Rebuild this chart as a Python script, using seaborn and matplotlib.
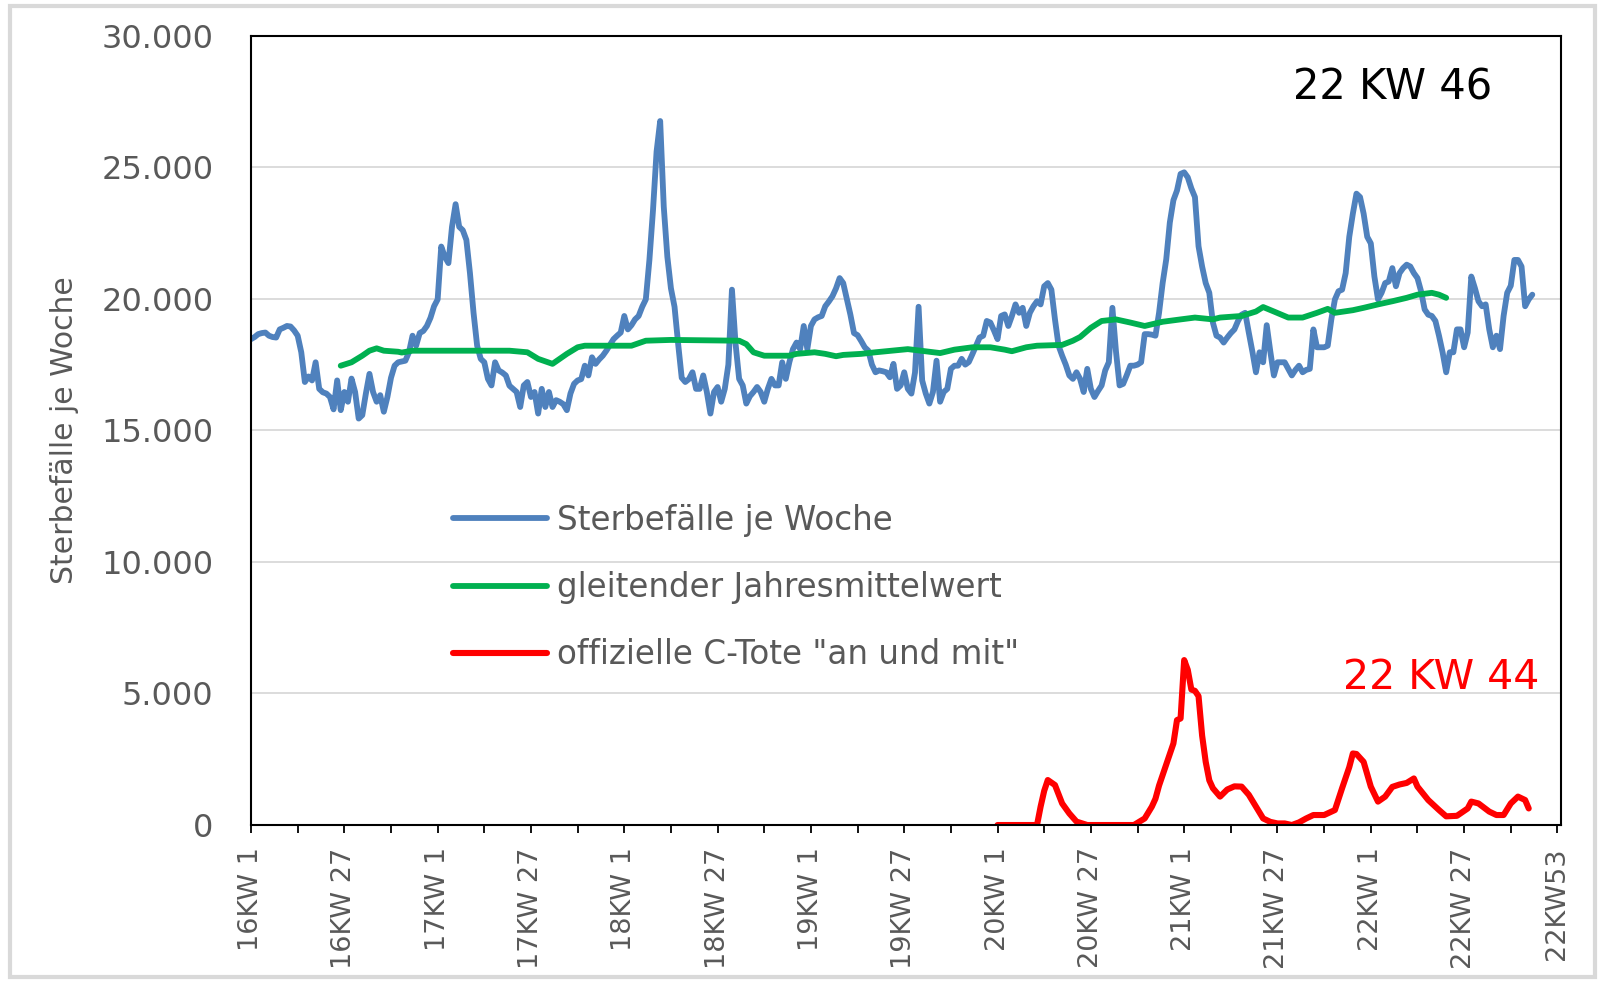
import numpy as np
import pandas as pd
import matplotlib
matplotlib.use("Agg")
import matplotlib.pyplot as plt
from matplotlib.ticker import FuncFormatter, MultipleLocator
from matplotlib.patches import Rectangle
import seaborn as sns

# Sterbefälle je Woche, ab 16KW1 (Index 0 = 16KW1)
sterbefaelle = [
    18470, 18550, 18660, 18700, 18720, 18600, 18550, 18530, 18840, 18900,
    18970, 18950, 18800, 18600, 17970, 16840, 17050, 16900, 17590, 16580,
    16450, 16400, 16270, 15800, 16900, 15770, 16460, 16090, 16970, 16460,
    15450, 15580, 16400, 17150, 16460, 16090, 16340, 15710, 16270, 17000,
    17460, 17590, 17620, 17650, 17970, 18600, 18220, 18700, 18780, 18970,
    19280, 19720, 19980, 21990, 21600, 21360, 22740, 23600, 22740, 22610,
    22240, 20980, 19470, 18220, 17720, 17590, 16960, 16710, 17590, 17280,
    17200, 17090, 16700, 16580, 16460, 15890, 16710, 16840, 16270, 16460,
    15640, 16580, 15890, 16460, 15890, 16150, 16090, 16000, 15770, 16400,
    16770, 16900, 16950, 17460, 17090, 17780, 17530, 17700, 17840, 18030,
    18250, 18470, 18600, 18720, 19350, 18840, 19000, 19220, 19350, 19700,
    19980, 21480, 23370, 25600, 26760, 23500, 21600, 20400, 19700, 18300,
    17000, 16840, 16950, 17210, 16580, 16580, 17090, 16460, 15640, 16460,
    16650, 16090, 16580, 17500, 20350, 18300, 16960, 16710, 16020, 16300,
    16460, 16650, 16460, 16090, 16580, 16960, 16710, 16710, 17590, 16960,
    17600, 18090, 18340, 18090, 18970, 18090, 18970, 19220, 19300, 19350,
    19720, 19900, 20100, 20400, 20790, 20600, 20000, 19400, 18700, 18620,
    18400, 18160, 18030, 17500, 17210, 17280, 17250, 17210, 17020, 17530,
    16580, 16710, 17210, 16580, 16400, 17200, 19700, 16900, 16400, 16020,
    16460, 17650, 16090, 16460, 16580, 17340, 17460, 17460, 17720, 17500,
    17600, 17900, 18220, 18530, 18600, 19160, 19100, 18800, 18470, 19350,
    19410, 18970, 19350, 19790, 19470, 19660, 18970, 19470, 19720, 19910,
    19790, 20480, 20600, 20350, 19220, 18220, 17840, 17500, 17090, 16960,
    17210, 16960, 16460, 17340, 16580, 16270, 16500, 16710, 17280, 17590,
    19660, 18000, 16710, 16770, 17100, 17460, 17460, 17500, 17590, 18660,
    18660, 18640, 18600, 19470, 20600, 21500, 22900, 23750, 24120, 24750,
    24810, 24620, 24200, 23870, 22000, 21230, 20600, 20230, 19100, 18600,
    18530, 18340, 18530, 18700, 18840, 19160, 19400, 19470, 18720, 18000,
    17210, 17970, 17590, 19000, 18000, 17090, 17590, 17590, 17590, 17340,
    17090, 17300, 17460, 17210, 17300, 17340, 18840, 18160, 18160, 18160,
    18220, 19220, 19980, 20290, 20350, 20980, 22360, 23240, 24000, 23870,
    23240, 22360, 22110, 20850, 19980, 20230, 20600, 20660, 21170, 20480,
    20980, 21170, 21300, 21230, 20980, 20790, 20290, 19600, 19400, 19350,
    19160, 18600, 17970, 17210, 17970, 17970, 18840, 18840, 18160, 18720,
    20850, 20410, 19910, 19720, 19790, 18840, 18160, 18600, 18090, 19350,
    20230, 20500, 21480, 21480, 21230, 19720, 19980, 20160,
]

# gleitender Jahresmittelwert (Woche, Wert)
mittel_kw = [25, 28, 31, 33, 35, 37, 41, 42, 45, 56, 72, 77, 80, 84, 88, 91, 93,
             106, 110, 117, 136, 138, 140, 143, 150, 152, 157, 160, 163, 165, 170,
             174, 183, 192, 196, 201, 206, 210, 212, 216, 219, 226, 229, 231, 234,
             237, 241, 245, 249, 254, 259, 263, 268, 270, 276, 280, 282, 285, 289,
             293, 297, 300, 302, 307, 310, 314, 318, 322, 325, 329, 331, 333]
mittel = [17460, 17590, 17840, 18030, 18120, 18030, 17990, 17960, 18030, 18030,
          18030, 17970, 17720, 17530, 17910, 18160, 18220, 18220, 18410, 18440,
          18410, 18280, 17970, 17840, 17840, 17910, 17970, 17910, 17820, 17870,
          17910, 17970, 18090, 17940, 18070, 18160, 18160, 18070, 18010, 18160,
          18220, 18250, 18410, 18550, 18900, 19160, 19220, 19100, 18970, 19130,
          19220, 19290, 19220, 19290, 19350, 19520, 19690, 19520, 19290, 19290,
          19470, 19620, 19470, 19570, 19660, 19790, 19910, 20040, 20160, 20230,
          20160, 20040]

# offizielle C-Tote "an und mit" (Woche, Wert)
ctote_kw = [208, 219, 220, 221, 222, 224, 226, 228, 230, 233, 246, 249, 251, 252,
            253, 254, 255, 256, 257, 258, 259, 260, 261, 262, 263, 264, 265, 266,
            267, 268, 270, 272, 274, 276, 278, 280, 282, 284, 286, 288, 290, 292,
            294, 296, 299, 302, 304, 306, 307, 308, 310, 312, 314, 316, 318, 320,
            322, 324, 325, 328, 331, 333, 336, 339, 340, 342, 345, 347, 349, 351,
            353, 355, 356]
ctote = [0, 0, 700, 1300, 1710, 1520, 820, 440, 130, 0, 0, 250, 700, 1000,
         1500, 1900, 2300, 2700, 3100, 3990, 4050, 6270, 5900, 5150, 5100, 4900, 3400, 2400,
         1700, 1400, 1080, 1350, 1470, 1460, 1150, 700, 250, 120, 60, 60, 0, 100,
         250, 380, 380, 570, 1400, 2200, 2720, 2700, 2400, 1460, 890, 1080, 1450, 1540,
         1600, 1770, 1460, 950, 570, 330, 350, 630, 890, 820, 510, 380, 380, 820,
         1080, 950, 630]

kw_labels = ["16KW 1", "16KW 27", "17KW 1", "17KW 27", "18KW 1", "18KW 27",
             "19KW 1", "19KW 27", "20KW 1", "20KW 27", "21KW 1", "21KW 27",
             "22KW 1", "22KW 27", "22KW53"]

df_tote = pd.DataFrame({"kw": np.arange(len(sterbefaelle)), "wert": sterbefaelle})
df_mittel = pd.DataFrame({"kw": mittel_kw, "wert": mittel})
df_ctote = pd.DataFrame({"kw": ctote_kw, "wert": ctote})

sns.set_theme(style="white")
plt.rcParams["font.family"] = ["DejaVu Sans"]

fig = plt.figure(figsize=(16.05, 9.81), dpi=100)
ax = fig.add_axes([0.1564, 0.159, 0.8162, 0.8045])

grau = "#595959"
sns.lineplot(data=df_tote, x="kw", y="wert", ax=ax, color="#4F81BD", lw=4.2,
             label="Sterbefälle je Woche")
sns.lineplot(data=df_mittel, x="kw", y="wert", ax=ax, color="#00B050", lw=4.2,
             label="gleitender Jahresmittelwert")
sns.lineplot(data=df_ctote, x="kw", y="wert", ax=ax, color="#FF0000", lw=4.4,
             label='offizielle C-Tote "an und mit"')

ax.set_xlim(0, 365)
ax.set_ylim(0, 30000)
ax.set_xticks(np.arange(0, 365, 26))
ax.set_xticklabels(kw_labels, rotation=90, fontsize=19.5, color=grau)
ax.xaxis.set_minor_locator(MultipleLocator(13))
ax.tick_params(axis="x", which="both", direction="out", length=6, width=1.3,
               color="black", bottom=True, pad=10)
ax.yaxis.set_major_locator(MultipleLocator(5000))
ax.yaxis.set_major_formatter(FuncFormatter(lambda v, p: f"{int(v):,}".replace(",", ".")))
ax.tick_params(axis="y", length=0, labelsize=23, labelcolor=grau, pad=27)
ax.grid(axis="y", color="#D9D9D9", lw=1.3)
ax.grid(axis="x", visible=False)
for s in ax.spines.values():
    s.set_color("black")
    s.set_linewidth(1.5)

ax.set_xlabel("")
ax.set_ylabel("Sterbefälle je Woche", fontsize=21.5, color=grau, labelpad=16)

ax.text(318, 28050, "22 KW 46", fontsize=30, color="black", ha="center", va="center")
ax.text(331.5, 5600, "22 KW 44", fontsize=29.5, color="#FF0000", ha="center", va="center")

leg = ax.legend(loc="center left", bbox_to_anchor=(0.154, 0.301), frameon=False,
                fontsize=23.5, handlelength=2.9, handletextpad=0.3, labelspacing=1.05,
                borderpad=0, borderaxespad=0)
for t in leg.get_texts():
    t.set_color(grau)

fig.patches.append(Rectangle((0.006, 0.004), 0.988, 0.99, transform=fig.transFigure,
                             fill=False, edgecolor="#D9D9D9", lw=3))

fig.savefig("out.png", dpi=100)
